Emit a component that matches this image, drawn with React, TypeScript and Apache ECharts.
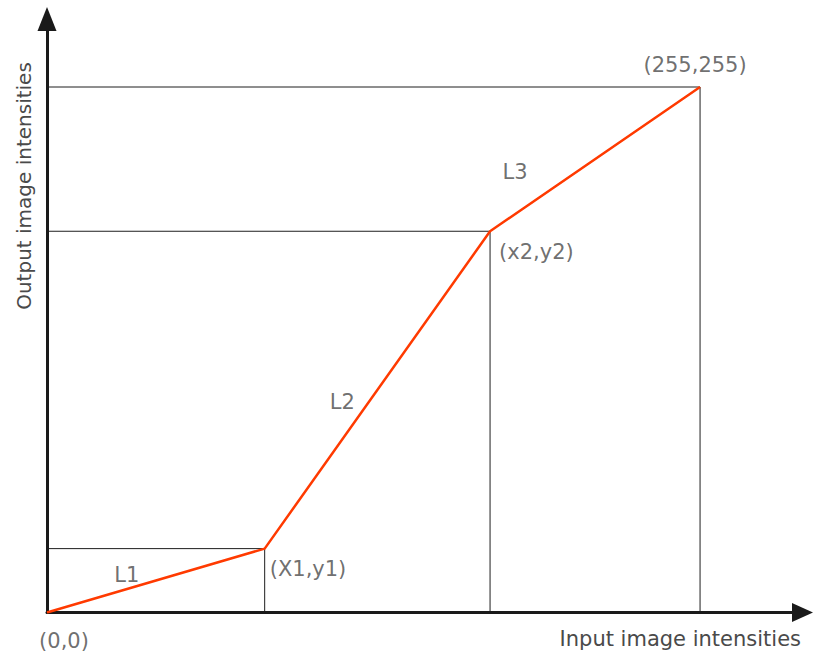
import React, { useEffect, useRef } from "react";
import * as echarts from "echarts";

// Break points of the piecewise-linear contrast-stretching function
const pointX = [0, 85, 173, 255];
const pointY = [0, 31, 185, 255];
const pointLabels = ["(0,0)", "(X1,y1)", "(x2,y2)", "(255,255)"];
const segmentLabels = ["L1", "L2", "L3"];
const xAxisTitle = "Input image intensities";
const yAxisTitle = "Output image intensities";

const FONT = "'DejaVu Sans', Arial, sans-serif";
const TEXT_COLOR = "#4a4a4a";

export default function App() {
  const ref = useRef<HTMLDivElement>(null);

  useEffect(() => {
    if (!ref.current) return;
    const chart = echarts.init(ref.current, undefined, { renderer: "svg" });

    // guide lines: horizontal from y-axis to point, vertical from point down to x-axis
    const guideSeries = pointX.slice(1).map((x, i) => {
      const y = pointY[i + 1];
      return {
        type: "line",
        data: [
          [0, y],
          [x, y],
          [x, 0],
        ],
        symbol: "none",
        silent: true,
        z: 2,
        lineStyle: { color: "#1e1e1e", width: 1 },
      };
    });

    const pointOffsets = [
      { offset: [17, 28], align: "center" },
      { offset: [5, 20], align: "left" },
      { offset: [9, 21], align: "left" },
      { offset: [-5, -22], align: "center" },
    ];
    const segOffsets = [
      [-29, -6],
      [-35, 12],
      [-80, 13],
    ];

    const labelData: any[] = [];
    pointX.forEach((x, i) => {
      labelData.push({
        value: [x, pointY[i]],
        label: {
          show: true,
          formatter: pointLabels[i],
          position: "inside",
          offset: pointOffsets[i].offset,
          align: pointOffsets[i].align,
          verticalAlign: "middle",
        },
      });
    });
    segmentLabels.forEach((t, i) => {
      labelData.push({
        value: [(pointX[i] + pointX[i + 1]) / 2, (pointY[i] + pointY[i + 1]) / 2],
        label: {
          show: true,
          formatter: t,
          position: "inside",
          offset: segOffsets[i],
          align: "center",
          verticalAlign: "middle",
        },
      });
    });

    const axisCommon = {
      type: "value",
      min: 0,
      splitLine: { show: false },
      axisTick: { show: false },
      axisLabel: { show: false },
    };

    chart.setOption({
      animation: false,
      backgroundColor: "#ffffff",
      grid: { left: 47, right: 12.5, top: 19, bottom: 40.5 },
      xAxis: {
        ...axisCommon,
        max: 295,
        axisLine: {
          show: true,
          symbol: ["none", "triangle"],
          symbolSize: [19, 21],
          lineStyle: { color: "#1a1a1a", width: 3 },
        },
      },
      yAxis: {
        ...axisCommon,
        max: 288,
        axisLine: {
          show: true,
          symbol: ["none", "triangle"],
          symbolSize: [19, 24],
          lineStyle: { color: "#1a1a1a", width: 3 },
        },
      },
      graphic: [
        {
          type: "text",
          right: 14,
          top: 628,
          style: {
            text: xAxisTitle,
            font: `21px ${FONT}`,
            fill: TEXT_COLOR,
          },
        },
        {
          type: "text",
          x: 24,
          y: 186,
          rotation: Math.PI / 2,
          style: {
            text: yAxisTitle,
            font: `20px ${FONT}`,
            fill: TEXT_COLOR,
            align: "center",
            verticalAlign: "middle",
          },
        },
      ],
      series: [
        ...guideSeries,
        {
          type: "line",
          data: pointX.map((x, i) => [x, pointY[i]]),
          symbol: "none",
          z: 5,
          lineStyle: { color: "#ff3a00", width: 2.5 },
        },
        {
          type: "scatter",
          data: labelData,
          symbolSize: 0,
          silent: true,
          z: 6,
          label: {
            color: TEXT_COLOR,
            fontSize: 21,
            fontFamily: FONT,
          },
        },
      ],
    });

    return () => chart.dispose();
  }, []);

  return (
    <div
      ref={ref}
      style={{ position: "fixed", left: 0, top: 0, width: 815, height: 653, background: "#fff" }}
    />
  );
}
